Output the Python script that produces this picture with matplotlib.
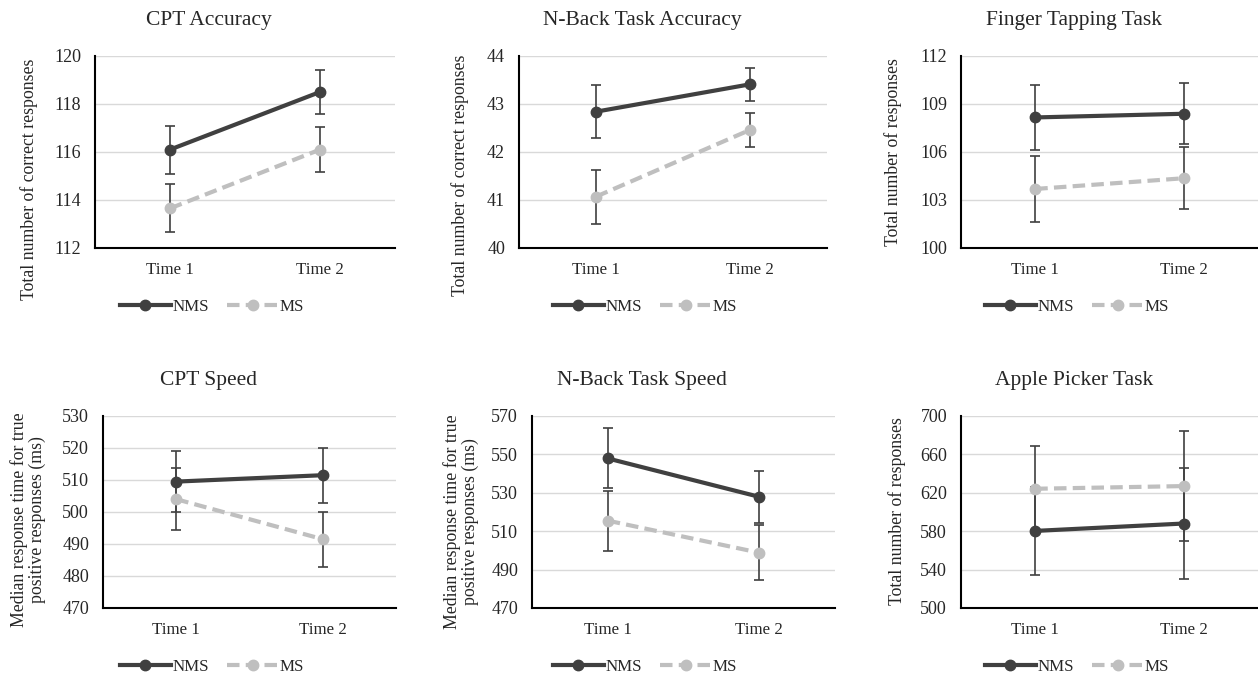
import matplotlib
matplotlib.use('Agg')

import matplotlib.pyplot as plt
import numpy as np

plt.rcParams['font.family'] = ['Liberation Serif', 'DejaVu Serif']

# Data
times = ['Time 1', 'Time 2']
titles = ['CPT Accuracy', 'N-Back Task Accuracy', 'Finger Tapping Task',
          'CPT Speed', 'N-Back Task Speed', 'Apple Picker Task']
ylabels = ['Total number of correct responses',
           'Total number of correct responses',
           'Total number of responses',
           'Median response time for true\npositive responses (ms)',
           'Median response time for true\npositive responses (ms)',
           'Total number of responses']

nms_mean = [[116.1, 118.5], [42.84, 43.41], [108.16, 108.39],
            [509.5, 511.5], [547.9, 527.9], [580.3, 588.0]]
nms_err = [[1.0, 0.92], [0.55, 0.35], [2.05, 1.92],
           [9.6, 8.6], [15.6, 13.4], [45.9, 58.1]]
ms_mean = [[113.65, 116.1], [41.07, 42.46], [103.69, 104.36],
           [504.0, 491.5], [515.5, 498.8], [624.2, 627.0]]
ms_err = [[1.0, 0.93], [0.56, 0.35], [2.08, 1.93],
          [9.6, 8.6], [15.6, 14.2], [44.8, 57.7]]

yticks = [np.arange(112, 121, 2), np.arange(40, 45, 1), np.arange(100, 113, 3),
          np.arange(470, 531, 10), np.arange(470, 571, 20), np.arange(500, 701, 40)]

# Layout (pixels in a 1258x676 canvas)
W, H = 1258, 676
axes_px = [(95, 56, 300, 192), (519, 56, 308, 192), (961, 56, 297, 192),
           (103, 416, 293, 192), (532, 416, 303, 192), (961, 416, 297, 192)]
title_px = [(209, 21), (642, 21), (1074, 21), (209, 380), (642, 380), (1074, 380)]
ylabel_px = [(29, 179), (460, 175), (893, 152), (28, 520), (461, 522), (897, 511)]
legend_px = [(212, 307), (645, 307), (1077, 307), (212, 667), (645, 667), (1077, 667)]

dark = '#404040'
light = '#bfbfbf'
text_col = '#262626'

fig = plt.figure(figsize=(W / 100, H / 100), dpi=100)

for i in range(6):
    l, t, w, h = axes_px[i]
    ax = fig.add_axes([l / W, 1 - (t + h) / H, w / W, h / H])
    x = np.arange(len(times))

    for means, errs, col, ls, lab in [(nms_mean[i], nms_err[i], dark, '-', 'NMS'),
                                      (ms_mean[i], ms_err[i], light, (0, (3, 1.5)), 'MS')]:
        ax.errorbar(x, means, yerr=errs, fmt='none', ecolor=dark,
                    elinewidth=1.2, capsize=3.5, capthick=1.2, zorder=2)
        ax.plot(x, means, color=col, linestyle=ls, linewidth=3, marker='o',
                markersize=7.5, label=lab, zorder=3)

    ax.set_xlim(-0.5, 1.5)
    ax.set_xticks(x)
    ax.set_xticklabels(times)
    ax.set_yticks(yticks[i])
    ax.set_ylim(yticks[i][0], yticks[i][-1])
    ax.tick_params(length=0, labelcolor=text_col)
    ax.tick_params(axis='x', pad=10, labelsize=12.2)
    ax.tick_params(axis='y', pad=10, labelsize=13)
    ax.grid(axis='y', color='#d9d9d9', linewidth=1)
    ax.set_axisbelow(True)
    for s in ['top', 'right']:
        ax.spines[s].set_visible(False)
    for s in ['left', 'bottom']:
        ax.spines[s].set_linewidth(1.5)
        ax.spines[s].set_color('black')

    tx, ty = title_px[i]
    fig.text(tx / W, 1 - ty / H, titles[i], ha='center', va='center',
             fontsize=15.5, color=text_col)
    lx, ly = ylabel_px[i]
    fig.text(lx / W, 1 - ly / H, ylabels[i], ha='center', va='center',
             rotation=90, fontsize=12.8, color=text_col, linespacing=1.0)
    gx, gy = legend_px[i]
    ax.legend(loc='center', bbox_to_anchor=(gx / W, 1 - gy / H),
              bbox_transform=fig.transFigure, ncol=2, frameon=False,
              fontsize=12.2, handlelength=3.0, handletextpad=0.1,
              columnspacing=1.1, labelcolor=text_col)

fig.savefig('out.png', dpi=100)
